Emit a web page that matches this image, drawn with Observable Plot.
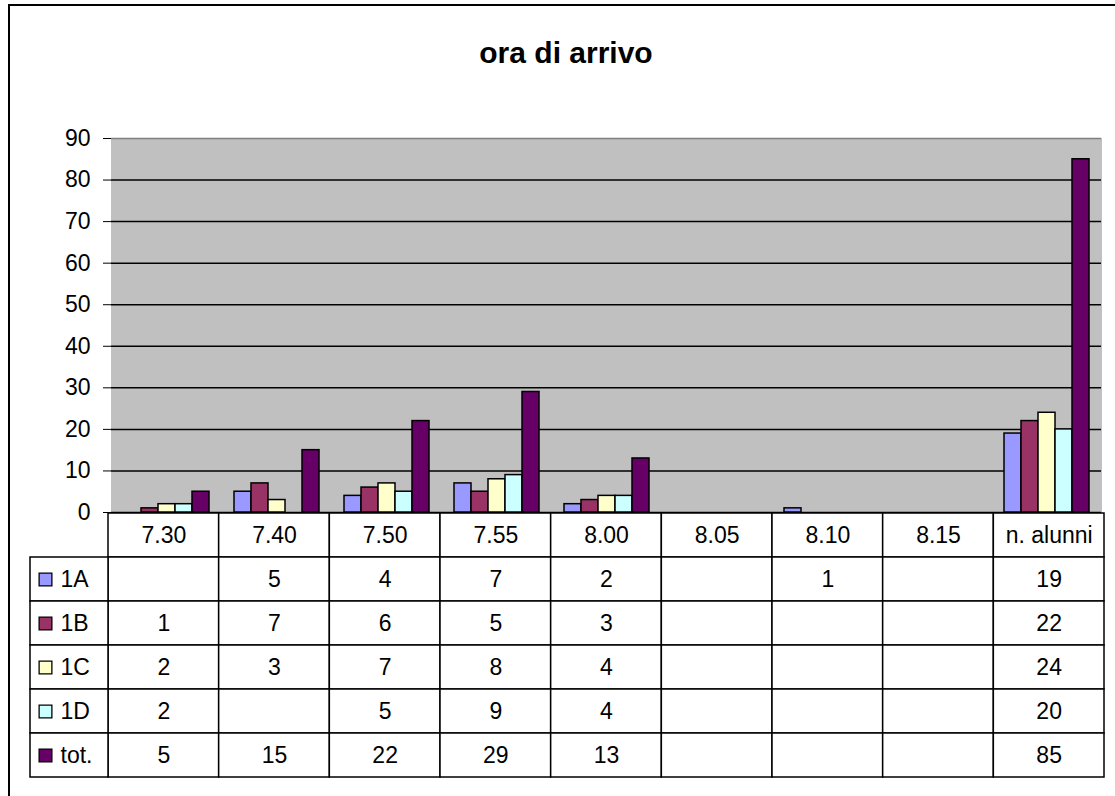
<!DOCTYPE html>
<html>
<head>
<meta charset="utf-8">
<script src="https://cdn.jsdelivr.net/npm/d3@7"></script>
<script src="https://cdn.jsdelivr.net/npm/@observablehq/plot@0.6"></script>
<style>
  html, body { margin: 0; padding: 0; background: #fff; overflow: hidden; width: 1115px; height: 796px; }
  #page { position: relative; width: 1115px; height: 796px; font-family: "Liberation Sans", Arial, sans-serif; }
  #border { position: absolute; left: 8px; top: 4px; width: 1200px; height: 900px; border-left: 2px solid #000; border-top: 2px solid #000; }
  #title { position: absolute; left: 0; width: 1132px; top: 38px; text-align: center; font-size: 30px; font-weight: bold; line-height: 1; }
  #chart { position: absolute; left: 0; top: 0; }
  #table { position: absolute; left: 0; top: 512px; }
  svg { font-family: "Liberation Sans", Arial, sans-serif; overflow: visible; }
</style>
</head>
<body>
<div id="page">
  <div id="border"></div>
  <div id="title">ora di arrivo</div>
  <div id="chart"></div>
  <div id="table"></div>
</div>
<script>
// ---- data ----
const categories = ["7.30", "7.40", "7.50", "7.55", "8.00", "8.05", "8.10", "8.15", "n. alunni"];
const series = ["1A", "1B", "1C", "1D", "tot."];
const values1A  = [null, 5, 4, 7, 2, null, 1, null, 19];
const values1B  = [1, 7, 6, 5, 3, null, null, null, 22];
const values1C  = [2, 3, 7, 8, 4, null, null, null, 24];
const values1D  = [2, null, 5, 9, 4, null, null, null, 20];
const valuesTot = [5, 15, 22, 29, 13, null, null, null, 85];
const seriesColors = ["#9999FF", "#993366", "#FFFFCC", "#CCFFFF", "#660066"];
const yTicks = [0, 10, 20, 30, 40, 50, 60, 70, 80, 90];

const seriesValues = [values1A, values1B, values1C, values1D, valuesTot];
const rows = [];
series.forEach((s, si) => {
  categories.forEach((c, ci) => {
    rows.push({series: s, cat: c, ci, value: seriesValues[si][ci]});
  });
});

// ---- chart ----
const chart = Plot.plot({
  width: 1115,
  height: 513,
  marginTop: 138,
  marginBottom: 1,
  marginLeft: 108,
  marginRight: 11,
  style: {fontSize: "23px", color: "#000", background: "transparent"},
  facet: {data: rows, x: "cat"},
  fx: {domain: categories, padding: 0, axis: null},
  x: {domain: series, paddingInner: 0, paddingOuter: 0.72, axis: null},
  y: {domain: [0, 90], ticks: yTicks, tickSize: 8, tickPadding: 13, label: null, line: true},
  color: {domain: series, range: seriesColors},
  marks: [
    Plot.frame({fill: "#C0C0C0", stroke: "#C0C0C0", strokeWidth: 1}),
    Plot.ruleY(yTicks.filter(t => t < 90), {stroke: "#000", strokeWidth: 1.5}),
    Plot.ruleY([90], {stroke: "#808080", strokeWidth: 1.5}),
    Plot.barY(rows, {x: "series", y: "value", fill: "series", stroke: "#000", strokeWidth: 1.5})
  ]
});
document.getElementById("chart").appendChild(chart);

// ---- table ----
const legendColStart = -78 / ((1104 - 108) / 9);
const headerCells = categories.map((c, i) => ({i, row: "hdr", text: c}));
const dataCells = rows.map(d => ({i: d.ci, row: d.series, text: d.value == null ? "" : String(d.value)}));
const legendCells = series.map(s => ({row: s}));

const table = Plot.plot({
  width: 1115,
  height: 284,
  marginTop: 0,
  marginBottom: 19,
  marginLeft: 30,
  marginRight: 11,
  style: {fontSize: "23px", color: "#000", background: "transparent"},
  x: {type: "linear", domain: [legendColStart, categories.length], axis: null},
  y: {type: "band", domain: ["hdr", ...series], padding: 0, axis: null},
  color: {domain: series, range: seriesColors},
  marks: [
    Plot.barX(headerCells, {x1: "i", x2: d => d.i + 1, y: "row", fill: "#fff", stroke: "#000", strokeWidth: 1.5}),
    Plot.barX(dataCells, {x1: "i", x2: d => d.i + 1, y: "row", fill: "#fff", stroke: "#000", strokeWidth: 1.5}),
    Plot.barX(legendCells, {x1: () => legendColStart, x2: () => 0, y: "row", fill: "#fff", stroke: "#000", strokeWidth: 1.5}),
    Plot.text(headerCells, {x: d => d.i + 0.5, y: "row", text: "text", fontSize: 23}),
    Plot.text(dataCells, {x: d => d.i + 0.5, y: "row", text: "text", fontSize: 23}),
    Plot.dot(legendCells, {y: "row", frameAnchor: "left", dx: 15, symbol: "square", r: 7.2, fill: "row", stroke: "#000", strokeWidth: 1.3}),
    Plot.text(legendCells, {y: "row", frameAnchor: "left", dx: 30, text: "row", textAnchor: "start", fontSize: 23})
  ]
});
document.getElementById("table").appendChild(table);
</script>
</body>
</html>
